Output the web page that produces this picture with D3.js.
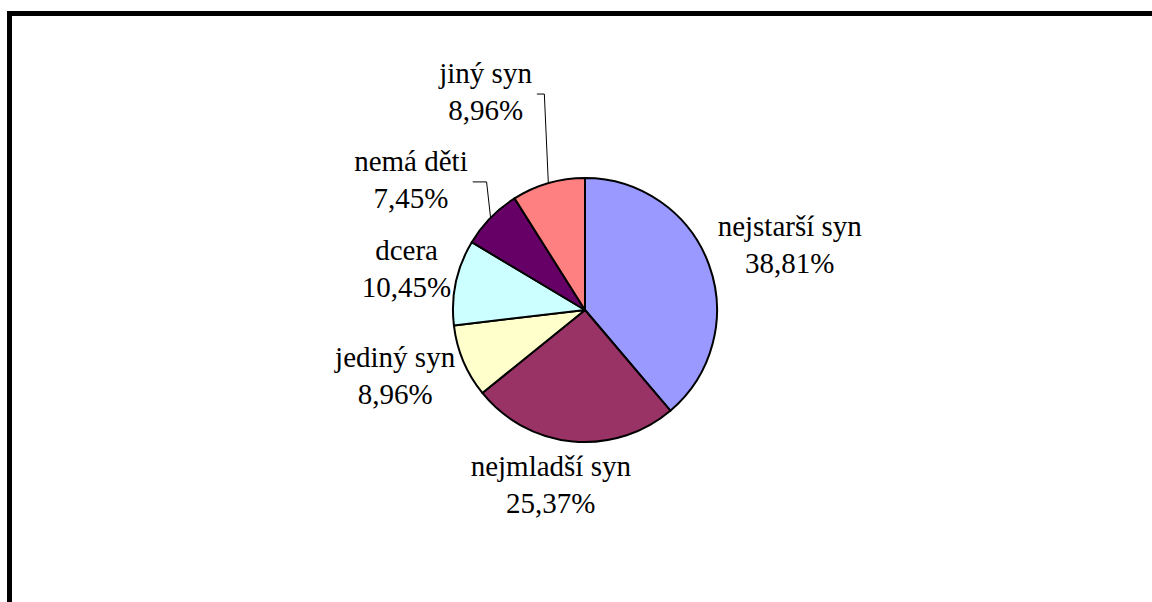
<!DOCTYPE html>
<html>
<head>
<meta charset="utf-8">
<script src="https://cdn.jsdelivr.net/npm/d3@7"></script>
<style>
  body { margin: 0; background: #fff; }
  .leader { fill: none; stroke: #000; stroke-width: 1; }
</style>
</head>
<body>
<div id="chart"></div>
<script>
// Data
const categories = ["nejstarší syn", "nejmladší syn", "jediný syn", "dcera", "nemá děti", "jiný syn"];
const values = [38.81, 25.37, 8.96, 10.45, 7.45, 8.96];
const percentLabels = ["38,81%", "25,37%", "8,96%", "10,45%", "7,45%", "8,96%"];
const colors = ["#9999FF", "#993366", "#FFFFCC", "#CCFFFF", "#660066", "#FF8080"];

// Layout
const width = 1152, height = 602;
const cx = 585, cy = 310, radius = 132;
const labelGap = 10;
const lineStep = 37;
// hand-made label moves from the original; the ones with a leader were dragged away
const labelNudge = {
  "nejmladší syn": { dx: -13, dy: 0 },
  "dcera": { dx: 8, dy: 0 },
  "nemá děti": { dx: -29, dy: -2, leader: true },
  "jiný syn": { dx: -46, dy: -43, leader: true }
};

const svg = d3.select("#chart")
  .append("svg")
    .attr("width", width)
    .attr("height", height);

// Frame (only top and left edges visible)
svg.append("rect")
  .attr("x", 9.5)
  .attr("y", 13.5)
  .attr("width", 1300)
  .attr("height", 800)
  .attr("fill", "none")
  .attr("stroke", "#000")
  .attr("stroke-width", 5);

const table = categories.map((c, i) => ({ name: c, value: values[i], pct: percentLabels[i], color: colors[i] }));

const pie = d3.pie().sort(null).value(d => d.value);
const arcs = pie(table);
const arc = d3.arc().innerRadius(0).outerRadius(radius);

const g = svg.append("g").attr("transform", `translate(${cx},${cy})`);

g.selectAll("path.slice")
  .data(arcs)
  .enter()
  .append("path")
    .attr("class", "slice")
    .attr("d", arc)
    .attr("fill", d => d.data.color)
    .attr("stroke", "#000")
    .attr("stroke-width", 2)
    .attr("stroke-linejoin", "round");

// LABELS
arcs.forEach(d => {
  const mid = (d.startAngle + d.endAngle) / 2;
  const s = Math.sin(mid), c = Math.cos(mid);

  const lab = g.append("g")
    .attr("font-family", "Liberation Serif")
    .attr("font-size", 29)
    .attr("fill", "#000")
    .attr("text-anchor", "middle");
  const t1 = lab.append("text").text(d.data.name);
  const t2 = lab.append("text").text(d.data.pct);
  const w = Math.max(t1.node().getComputedTextLength(), t2.node().getComputedTextLength());

  // anchor just outside the slice, box pushed outward along the mid angle
  const ax = (radius + labelGap) * s;
  const ay = -(radius + labelGap) * c;
  let lx = ax + s * (w / 2 + 4);
  let ly = ay - c * lineStep;

  const nudge = labelNudge[d.data.name];
  if (nudge) { lx += nudge.dx; ly += nudge.dy; }

  t1.attr("x", lx).attr("y", ly - 12);
  t2.attr("x", lx).attr("y", ly - 12 + lineStep);

  if (nudge && nudge.leader) {
    const px = radius * s, py = -radius * c;
    const x0 = lx + w / 2 + 5;
    g.append("polyline")
      .attr("class", "leader")
      .attr("points", `${x0},${ly - 1} ${px - 4},${ly - 1} ${px},${py}`);
  }
});
</script>
</body>
</html>
